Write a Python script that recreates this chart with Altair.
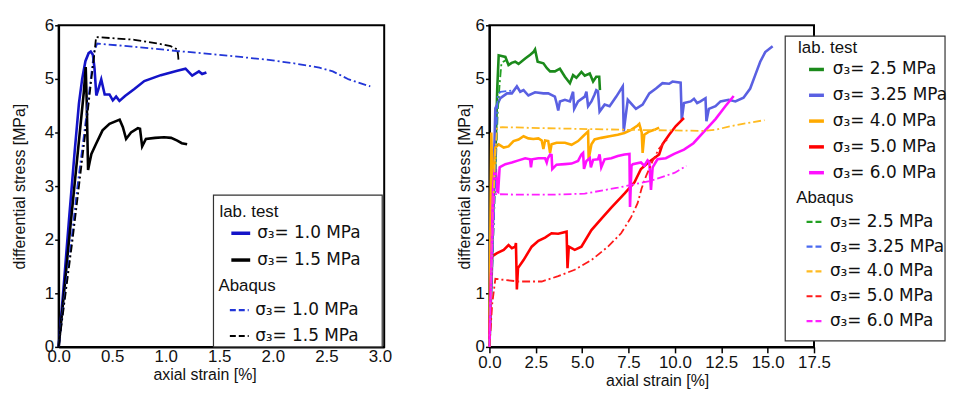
import altair as alt
import pandas as pd

# ---------------- left panel data ----------------
L_LAB_LABELS = ["σ₃= 1.0 MPa", "σ₃= 1.5 MPa"]
L_ABQ_LABELS = ["σ₃= 1.0 MPa", "σ₃= 1.5 MPa"]

l_blue_lab_x = [0, 0.05, 0.10, 0.15, 0.19, 0.22, 0.25, 0.28, 0.30, 0.32, 0.335, 0.352, 0.37, 0.398, 0.43,
                0.475, 0.506, 0.537, 0.568, 0.62, 0.707, 0.80, 0.954, 1.108, 1.185, 1.247, 1.31, 1.34, 1.38]
l_blue_lab_y = [0, 1.2, 2.45, 3.65, 4.55, 5.0, 5.33, 5.48, 5.51, 5.45, 5.2, 4.69, 4.8, 4.99, 4.71,
                4.71, 4.6, 4.67, 4.59, 4.68, 4.81, 4.96, 5.07, 5.15, 5.19, 5.06, 5.14, 5.09, 5.12]

l_black_lab_x = [0, 0.05, 0.10, 0.15, 0.20, 0.235, 0.253, 0.262, 0.275, 0.29, 0.306, 0.35, 0.41, 0.475, 0.57,
                 0.6, 0.63, 0.676, 0.74, 0.76, 0.78, 0.815, 0.9, 0.985, 1.05, 1.108, 1.15, 1.2]
l_black_lab_y = [0, 1.0, 2.05, 3.05, 4.05, 4.75, 5.22, 4.6, 3.3, 3.45, 3.6, 3.79, 4.04, 4.16, 4.24,
                 4.1, 3.88, 4.0, 4.08, 4.07, 3.74, 3.88, 3.9, 3.91, 3.9, 3.85, 3.8, 3.78]

l_blue_abq_x = [0, 0.06, 0.12, 0.176, 0.24, 0.30, 0.33, 0.36, 0.7, 1.108, 1.5, 1.94, 2.2, 2.435, 2.56, 2.71, 2.8, 2.91]
l_blue_abq_y = [0, 1.0, 2.0, 3.0, 4.0, 5.0, 5.5, 5.66, 5.6, 5.52, 5.45, 5.36, 5.29, 5.21, 5.14, 4.99, 4.93, 4.86]

l_black_abq_x = [0, 0.065, 0.13, 0.19, 0.25, 0.30, 0.33, 0.35, 0.5, 0.707, 0.954, 1.046, 1.108, 1.115, 1.12]
l_black_abq_y = [0, 1.0, 2.0, 3.0, 4.0, 4.9, 5.4, 5.78, 5.76, 5.73, 5.65, 5.61, 5.55, 5.45, 5.33]

L_X_TICKS = [0.0, 0.5, 1.0, 1.5, 2.0, 2.5, 3.0]

# ---------------- right panel data ----------------
R_LABELS = ["σ₃= 2.5 MPa", "σ₃= 3.25 MPa", "σ₃= 4.0 MPa", "σ₃= 5.0 MPa", "σ₃= 6.0 MPa"]

r_green_lab_x = [0, 0.2, 0.32, 0.42, 0.5, 0.86, 1.03, 1.2, 1.39, 1.57, 1.93, 2.2, 2.37, 2.46, 2.6, 2.91, 3.1, 3.27,
                 3.53, 3.8, 4.07, 4.34, 4.51, 4.69, 4.96, 5.14, 5.41, 5.59, 5.76, 5.92, 5.96]
r_green_lab_y = [0, 2.5, 3.5, 4.8, 5.44, 5.41, 5.26, 5.3, 5.32, 5.28, 5.38, 5.45, 5.5, 5.55, 5.32, 5.29, 5.2, 5.14,
                 5.14, 5.19, 5.04, 4.92, 5.07, 5.02, 5.13, 5.06, 5.1, 4.95, 5.04, 5.04, 4.79]

r_blue_lab_x = [0, 0.14, 0.25, 0.32, 0.59, 0.95, 1.21, 1.48, 1.66, 1.84, 2.1, 2.46, 2.91, 3.17, 3.53, 3.62, 3.71,
                3.8, 4.07, 4.34, 4.51, 4.57, 4.78, 5.14, 5.23, 5.32, 5.5, 5.67, 5.76, 5.85, 5.94, 6.21, 6.48,
                6.84, 7.19, 7.24, 7.46, 7.9, 8.26, 8.62, 8.98, 9.33, 9.69, 9.87, 10.31, 10.37, 10.49, 10.85,
                11.03, 11.2, 11.38, 11.65, 11.7, 11.83, 12.19, 12.46, 12.9, 13.26, 13.7, 14.06, 14.33, 14.6,
                14.87, 15.27]
r_blue_lab_y = [0, 1.5, 3.5, 4.45, 4.64, 4.73, 4.73, 4.86, 4.76, 4.79, 4.69, 4.75, 4.73, 4.73, 4.67, 4.55, 4.41,
                4.58, 4.61, 4.58, 4.76, 4.44, 4.58, 4.67, 4.76, 4.49, 4.58, 4.71, 4.79, 4.77, 4.39, 4.52, 4.49,
                4.67, 4.86, 4.02, 4.61, 4.44, 4.52, 4.73, 4.82, 4.92, 4.91, 4.95, 4.93, 4.24, 4.55, 4.58,
                4.63, 4.55, 4.58, 4.64, 4.21, 4.44, 4.49, 4.58, 4.61, 4.58, 4.65, 4.82, 5.07, 5.32,
                5.5, 5.61]

r_orange_lab_x = [0, 0.06, 0.1, 0.15, 0.22, 0.32, 0.5, 0.77, 1.03, 1.3, 1.57, 1.84, 2.1, 2.37, 2.64, 2.82, 2.91,
                  3.0, 3.17, 3.27, 3.35, 3.62, 4.07, 4.43, 4.78, 5.05, 5.32, 5.35, 5.5, 5.67, 6.03, 6.48, 6.92,
                  7.28, 7.64, 7.99, 8.08, 8.21, 8.26, 8.35, 8.62, 8.89, 9.15]
r_orange_lab_y = [0, 2.5, 4.0, 3.3, 3.0, 3.72, 3.78, 3.72, 3.74, 3.84, 3.87, 3.93, 3.89, 3.88, 3.89, 3.85, 3.69,
                  3.85, 3.84, 3.62, 3.78, 3.81, 3.81, 3.77, 3.84, 3.93, 4.02, 3.5, 3.78, 3.87, 3.9, 3.93, 3.96,
                  3.99, 4.05, 4.13, 4.16, 4.0, 3.62, 3.96, 4.02, 4.05, 4.09]

r_red_lab_x = [0, 0.06, 0.12, 0.14, 0.41, 0.77, 1.03, 1.21, 1.39, 1.43, 1.48, 1.54, 1.84, 2.28, 2.64, 3.0, 3.35,
               3.71, 4.16, 4.21, 4.28, 4.6, 4.96, 5.5, 6.03, 6.57, 7.28, 7.82, 8.17, 8.6, 9.15, 9.33, 9.69,
               10.05, 10.4, 10.49]
r_red_lab_y = [0, 1.0, 1.6, 1.69, 1.75, 1.81, 1.9, 1.84, 1.87, 1.94, 1.07, 1.47, 1.62, 1.87, 1.98, 2.04, 2.12,
               2.11, 2.15, 1.47, 1.87, 1.81, 1.87, 2.18, 2.39, 2.6, 2.86, 3.07, 3.32, 3.45, 3.59, 3.78, 3.96,
               4.12, 4.24, 4.27]

r_magenta_lab_x = [0, 0.1, 0.2, 0.28, 0.35, 0.42, 0.47, 0.55, 0.59, 0.86, 1.21, 1.57, 1.93, 2.19, 2.24, 2.3,
                   2.64, 3.0, 3.09, 3.15, 3.27, 3.35, 3.39, 3.62, 4.07, 4.43, 4.78, 4.96, 5.05, 5.1, 5.23, 5.41,
                   5.47, 5.59, 5.85, 5.94, 6.03, 6.21, 6.57, 6.92, 7.28, 7.55, 7.58, 7.66, 7.73, 8.17, 8.35,
                   8.53, 8.62, 8.71, 8.8, 8.89, 9.06, 9.51, 9.96, 10.49, 11.0, 11.47, 12.19, 12.72, 13.17]
r_magenta_lab_y = [0, 1.5, 3.0, 3.3, 3.3, 2.9, 2.89, 3.35, 3.36, 3.41, 3.44, 3.48, 3.52, 3.5, 3.35, 3.5,
                   3.52, 3.52, 3.44, 3.52, 3.59, 3.58, 3.32, 3.4, 3.41, 3.42, 3.47, 3.59, 3.62, 3.32, 3.47, 3.52,
                   3.35, 3.49, 3.5, 3.59, 3.35, 3.5, 3.52, 3.56, 3.59, 3.6, 2.61, 3.38, 3.41, 3.44, 3.38,
                   3.48, 3.45, 2.93, 3.35, 3.4, 3.5, 3.52, 3.6, 3.68, 3.8, 3.98, 4.25, 4.49, 4.68]

r_green_abq_x = [0, 0.3, 0.45, 0.55, 0.65, 0.9]
r_green_abq_y = [0, 3.0, 4.4, 4.9, 5.3, 5.35]

r_blue_abq_x = [0, 0.3, 0.41, 0.45, 0.6, 1.2]
r_blue_abq_y = [0, 3.0, 4.34, 4.7, 4.76, 4.78]

r_orange_abq_x = [0, 0.2, 0.3, 0.41, 0.7, 3.0, 7.5, 11.6, 12.2, 12.9, 13.8, 14.83]
r_orange_abq_y = [0, 2.5, 3.5, 4.09, 4.1, 4.08, 4.05, 4.03, 4.05, 4.11, 4.17, 4.23]

r_red_abq_x = [0, 0.15, 0.32, 1.57, 2.82, 3.71, 4.6, 5.5, 6.39, 7.1, 7.64, 7.99, 8.2, 8.44, 8.8, 9.15, 9.6]
r_red_abq_y = [0, 0.8, 1.27, 1.22, 1.22, 1.32, 1.44, 1.62, 1.87, 2.12, 2.42, 2.68, 2.95, 3.18, 3.47, 3.7, 3.88]

r_magenta_abq_x = [0, 0.12, 0.25, 0.32, 1.57, 3.35, 5.14, 6.92, 8.71, 10.0, 10.62]
r_magenta_abq_y = [0, 1.5, 2.85, 2.85, 2.84, 2.84, 2.86, 2.97, 3.1, 3.25, 3.38]

R_X_TICKS = [0.0, 2.5, 5.0, 7.5, 10.0, 12.5, 15.0, 17.5]
Y_TICKS = [0, 1, 2, 3, 4, 5, 6]


def series(label, xs, ys):
    return pd.DataFrame({"s": label, "x": xs, "y": ys, "i": list(range(len(xs)))})


left_lab = pd.concat([series(L_LAB_LABELS[0], l_blue_lab_x, l_blue_lab_y),
                      series(L_LAB_LABELS[1], l_black_lab_x, l_black_lab_y)])
left_abq = pd.concat([series(L_ABQ_LABELS[0], l_blue_abq_x, l_blue_abq_y),
                      series(L_ABQ_LABELS[1], l_black_abq_x, l_black_abq_y)])

right_lab = pd.concat([series(R_LABELS[0], r_green_lab_x, r_green_lab_y),
                       series(R_LABELS[1], r_blue_lab_x, r_blue_lab_y),
                       series(R_LABELS[2], r_orange_lab_x, r_orange_lab_y),
                       series(R_LABELS[3], r_red_lab_x, r_red_lab_y),
                       series(R_LABELS[4], r_magenta_lab_x, r_magenta_lab_y)])
right_abq = pd.concat([series(R_LABELS[0], r_green_abq_x, r_green_abq_y),
                       series(R_LABELS[1], r_blue_abq_x, r_blue_abq_y),
                       series(R_LABELS[2], r_orange_abq_x, r_orange_abq_y),
                       series(R_LABELS[3], r_red_abq_x, r_red_abq_y),
                       series(R_LABELS[4], r_magenta_abq_x, r_magenta_abq_y)])

L_LAB_COLORS = ["#1414c8", "#000000"]
L_ABQ_COLORS = ["#2236d8", "#000000"]
R_LAB_COLORS = ["#1b8a1b", "#5a60e2", "#ffaa00", "#ff0000", "#ff10ff"]
R_ABQ_COLORS = ["#22a022", "#4a6af0", "#ffbb22", "#ff1a1a", "#ff20ff"]
DASHDOT = [8, 3, 2, 3]


def panel(lab_df, abq_df, lab_labels, lab_colors, abq_labels, abq_colors,
          xdom, xticks, width, height, x_tick_size, y_title_pad, x_title_x,
          lab_leg, abq_leg, box, sym_len, sym_off, lab_off, row_pad):
    xscale = alt.Scale(domain=xdom, nice=False, zero=False)
    yscale = alt.Scale(domain=[0, 6], nice=False)
    xaxis = alt.Axis(values=xticks, format=".1f", title="axial strain [%]", tickSize=x_tick_size,
                     labelPadding=2, titlePadding=2, titleX=x_title_x, grid=False, labelFlush=False)
    yaxis = alt.Axis(values=Y_TICKS, format="d", title="differential stress [MPa]", tickSize=4,
                     labelPadding=1, titlePadding=y_title_pad, grid=False)
    common_leg = dict(orient="none", symbolType="stroke", symbolSize=sym_len * sym_len,
                      symbolOffset=sym_off, labelOffset=lab_off, padding=0, rowPadding=row_pad,
                      labelFont="DejaVu Sans", labelFontSize=17,
                      titleFont="Liberation Sans", titleFontSize=17, titleFontWeight="normal",
                      labelColor="#111111", titleColor="#111111", labelLimit=300)
    lab = alt.Chart(lab_df).mark_line(strokeWidth=2.6).encode(
        x=alt.X("x:Q", scale=xscale, axis=xaxis),
        y=alt.Y("y:Q", scale=yscale, axis=yaxis),
        color=alt.Color("s:N", scale=alt.Scale(domain=lab_labels, range=lab_colors),
                        legend=alt.Legend(title="lab. test", legendX=lab_leg[0], legendY=lab_leg[1],
                                          titlePadding=lab_leg[2], symbolStrokeWidth=3.5, **common_leg)),
        order=alt.Order("i:Q"),
    )
    abq = alt.Chart(abq_df).mark_line(strokeWidth=1.8, strokeDash=DASHDOT).encode(
        x=alt.X("x:Q", scale=xscale, axis=xaxis),
        y=alt.Y("y:Q", scale=yscale, axis=yaxis),
        color=alt.Color("s:N", scale=alt.Scale(domain=abq_labels, range=abq_colors),
                        legend=alt.Legend(title="Abaqus", legendX=abq_leg[0], legendY=abq_leg[1],
                                          titlePadding=abq_leg[2], symbolStrokeWidth=2.2,
                                          symbolDash=[6, 3], **common_leg)),
        order=alt.Order("i:Q"),
    )
    frame = alt.Chart(pd.DataFrame({"k": [0]})).mark_rect(
        fill="white", stroke="#333333", strokeWidth=1.2).encode(
        x=alt.value(box[0]), x2=alt.value(box[1]), y=alt.value(box[2]), y2=alt.value(box[3]))
    return alt.layer(lab, abq, frame).resolve_scale(color="independent").properties(
        width=width, height=height)


left = panel(left_lab, left_abq, L_LAB_LABELS, L_LAB_COLORS, L_ABQ_LABELS, L_ABQ_COLORS,
             [0, 3.04], L_X_TICKS, 328, 324, 0, 17, 147,
             (162, 180, 1), (161, 255, 4), (156, 326, 171, 324), 19, 10, 5, 7)

right = panel(right_lab, right_abq, R_LABELS, R_LAB_COLORS, R_LABELS, R_ABQ_COLORS,
              [0, 17.5], R_X_TICKS, 327, 324, 6, 3, 169,
              (311, 15, 3), (309, 166, 6), (298, 459, 11, 318), 15, 9, 7, 8)

chart = alt.hconcat(left, right, spacing=62).resolve_scale(
    color="independent", x="independent", y="independent"
).properties(
    padding={"left": 2, "top": 6, "right": 0, "bottom": 0}
).configure_view(
    stroke="black", strokeWidth=2
).configure_axis(
    domainColor="black", domainWidth=2, tickColor="black", tickWidth=1.5,
    labelFont="Liberation Sans", labelFontSize=17, labelColor="#111111",
    titleFont="Liberation Sans", titleFontSize=16, titleFontWeight="normal", titleColor="#111111"
)

chart.save("out.html", embed_options={"renderer": "svg", "actions": False})
